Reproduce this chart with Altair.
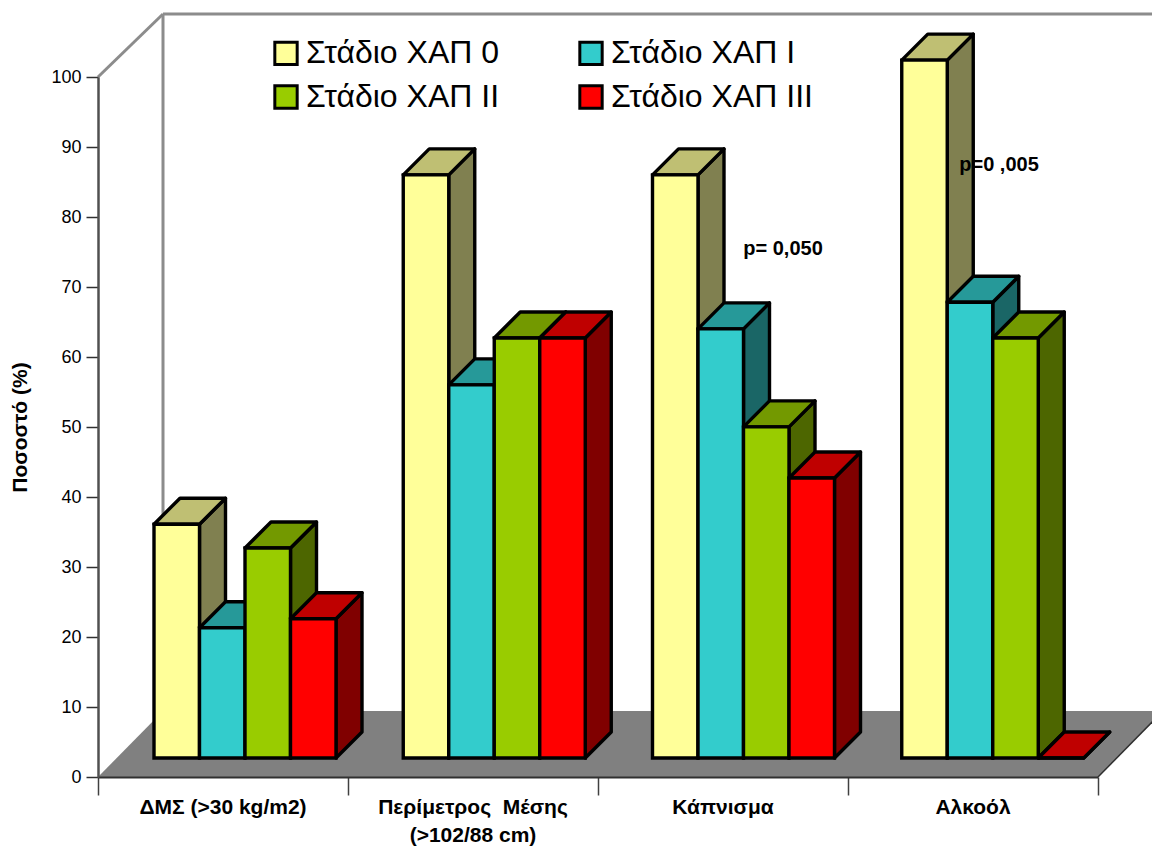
import altair as alt
import pandas as pd

# Percentages by risk factor and COPD stage
categories = ["ΔΜΣ (>30 kg/m2)", ["Περίμετρος\u00a0\u00a0Μέσης", "(>102/88 cm)"], "Κάπνισμα", "Αλκοόλ"]
stages = ["Στάδιο ΧΑΠ 0", "Στάδιο ΧΑΠ I", "Στάδιο ΧΑΠ II", "Στάδιο ΧΑΠ III"]
legend_order = ["Στάδιο ΧΑΠ 0", "Στάδιο ΧΑΠ II", "Στάδιο ΧΑΠ I", "Στάδιο ΧΑΠ III"]
stage_0 = [33.4, 83.3, 83.3, 99.7]
stage_1 = [18.6, 53.3, 61.3, 65.1]
stage_2 = [30.0, 60.0, 47.3, 60.0]
stage_3 = [19.9, 60.0, 40.0, 0.0]
series = [stage_0, stage_1, stage_2, stage_3]

front_colors = ["#FFFF99", "#33CCCC", "#99CC00", "#FF0000"]
legend_colors = ["#FFFF99", "#99CC00", "#33CCCC", "#FF0000"]
top_colors = ["#BFBF73", "#269999", "#739900", "#BF0000"]
side_colors = ["#808050", "#1A6666", "#4D6600", "#800000"]

notes = ["p= 0,050", "p=0 ,005"]
note_x = [2.74, 3.604]
note_y = [75.5, 87.4]

# Oblique projection: depth expressed in units of each axis
PX_X = 250.0
PX_Y = 7.0
BAR_DX = 26 / PX_X
BAR_DY = 26 / PX_Y
BASE = 19 / PX_Y
FLOOR_DX = 65 / PX_X
FLOOR_DY = 66 / PX_Y
GROUP_STEP = 0.997
GROUP_START = 0.224
BAR_W = 0.182
WALL_TOP = 109.0
EDGE = 3.4

x_scale = alt.Scale(domain=[0, 4], nice=False, zero=False)
y_scale = alt.Scale(domain=[0, 100], nice=False, zero=False)
x_axis = alt.Axis(values=[0, 1, 2, 3, 4], labels=False, title=None, grid=False,
                  tickSize=18, tickColor="#404040", tickWidth=1.5,
                  domainColor="#303030", domainWidth=2, zindex=1)
y_axis = alt.Axis(values=list(range(0, 101, 10)), title="Ποσοστό (%)", grid=False,
                  tickSize=12, tickColor="#303030", tickWidth=1.5,
                  domainColor="#505050", domainWidth=2.5,
                  labelFontSize=18, labelColor="black", labelPadding=5,
                  labelFont="Liberation Sans",
                  titleFontSize=21, titleFont="Liberation Sans", titleFontWeight="bold",
                  titleColor="black", titlePadding=20, zindex=1)
X = alt.X("x:Q", scale=x_scale, axis=x_axis)
Y = alt.Y("y:Q", scale=y_scale, axis=y_axis)

front_rows, top_rows, side_rows = {}, {}, {}
for s, values in enumerate(series):
    front_rows[s], top_rows[s], side_rows[s] = [], [], []
    for g, v in enumerate(values):
        x0 = g * GROUP_STEP + GROUP_START + s * BAR_W
        x1 = x0 + BAR_W
        top = BASE + v
        bar = f"{g}-{s}"
        front_rows[s].append({"x": x0, "x2": x1, "y": BASE, "y2": top, "stage": stages[s]})
        side_rows[s] += [
            {"x": x1, "y": top, "y2": BASE, "bar": bar},
            {"x": x1 + BAR_DX, "y": top + BAR_DY, "y2": BASE + BAR_DY, "bar": bar},
        ]
        top_rows[s] += [
            {"x": x0, "y": top, "y2": top, "bar": bar},
            {"x": x0 + BAR_DX, "y": top + BAR_DY, "y2": top, "bar": bar},
            {"x": x1, "y": top + BAR_DY, "y2": top, "bar": bar},
            {"x": x1 + BAR_DX, "y": top + BAR_DY, "y2": top + BAR_DY, "bar": bar},
        ]

# Floor, back wall and axes
floor = pd.DataFrame([
    {"x": 0, "y": 0, "y2": 0},
    {"x": FLOOR_DX, "y": FLOOR_DY, "y2": 0},
    {"x": 4, "y": FLOOR_DY, "y2": 0},
    {"x": 4 + FLOOR_DX, "y": FLOOR_DY, "y2": FLOOR_DY},
])
floor_layer = alt.Chart(floor).mark_area(orient="vertical", color="#808080").encode(
    x=X, y=Y, y2="y2:Q",
)
floor_edge = alt.Chart(pd.DataFrame([
    {"x": 4, "y": 0}, {"x": 4 + FLOOR_DX, "y": FLOOR_DY},
])).mark_line(color="#303030", strokeWidth=1.5).encode(x=X, y=Y)

wall_frame = pd.DataFrame([
    {"x": 0, "y": 100, "edge": "a"},
    {"x": FLOOR_DX, "y": WALL_TOP, "edge": "a"},
    {"x": FLOOR_DX, "y": WALL_TOP, "edge": "b"},
    {"x": FLOOR_DX, "y": FLOOR_DY, "edge": "b"},
    {"x": FLOOR_DX, "y": WALL_TOP, "edge": "c"},
    {"x": 4 + FLOOR_DX, "y": WALL_TOP, "edge": "c"},
])
wall_layer = alt.Chart(wall_frame).mark_line(color="#8C8C8C", strokeWidth=3).encode(
    x=X, y=Y, detail="edge:N"
)

layers = [wall_layer, floor_layer, floor_edge]

# Each stage is painted back to front so a later bar covers the side of the previous one
for s in range(4):
    layers.append(alt.Chart(pd.DataFrame(side_rows[s])).mark_area(
        orient="vertical", color=side_colors[s], stroke="black", strokeWidth=EDGE, strokeJoin="round"
    ).encode(x=X, y=Y, y2="y2:Q", detail="bar:N"))
    layers.append(alt.Chart(pd.DataFrame(top_rows[s])).mark_area(
        orient="vertical", color=top_colors[s], stroke="black", strokeWidth=EDGE, strokeJoin="round"
    ).encode(x=X, y=Y, y2="y2:Q", detail="bar:N"))
    layers.append(alt.Chart(pd.DataFrame(front_rows[s])).mark_rect(
        stroke="black", strokeWidth=EDGE
    ).encode(
        x=X, x2="x2:Q", y=Y, y2="y2:Q",
        color=alt.Color(
            "stage:N",
            scale=alt.Scale(domain=legend_order, range=legend_colors),
            legend=alt.Legend(
                title=None, orient="none", legendX=172, legendY=-40, columns=2,
                symbolType="square", symbolSize=500, symbolStrokeColor="black",
                symbolStrokeWidth=3, symbolOpacity=1,
                labelFontSize=32, labelFont="Liberation Sans", labelColor="black",
                labelOffset=4, labelLimit=320, rowPadding=8, columnPadding=73,
                symbolOffset=0,
            ),
        ),
    ))

# Category captions under the horizontal axis
caption_rows = [{"x": g + 0.5, "y": 0, "label": c} for g, c in enumerate(categories)]
captions = alt.Chart(alt.Data(values=caption_rows)).mark_text(
    font="Liberation Sans", fontWeight="bold", fontSize=21, color="black",
    baseline="top", dy=20, lineHeight=28,
).encode(x=X, y=Y, text=alt.Text("label:N"))

note_layer = alt.Chart(pd.DataFrame({"x": note_x, "y": note_y, "label": notes})).mark_text(
    font="Liberation Sans", fontWeight="bold", fontSize=20, color="black", baseline="middle",
).encode(x=X, y=Y, text="label:N")

layers += [captions, note_layer]

chart = alt.layer(*layers).properties(
    width=1000, height=700,
    padding={"left": 98, "top": 77, "right": 54, "bottom": 70},
    autosize=alt.AutoSizeParams(type="none"),
    background="white",
).configure_view(stroke=None)

chart.save("out.html", embed_options={"renderer": "svg", "actions": False})
